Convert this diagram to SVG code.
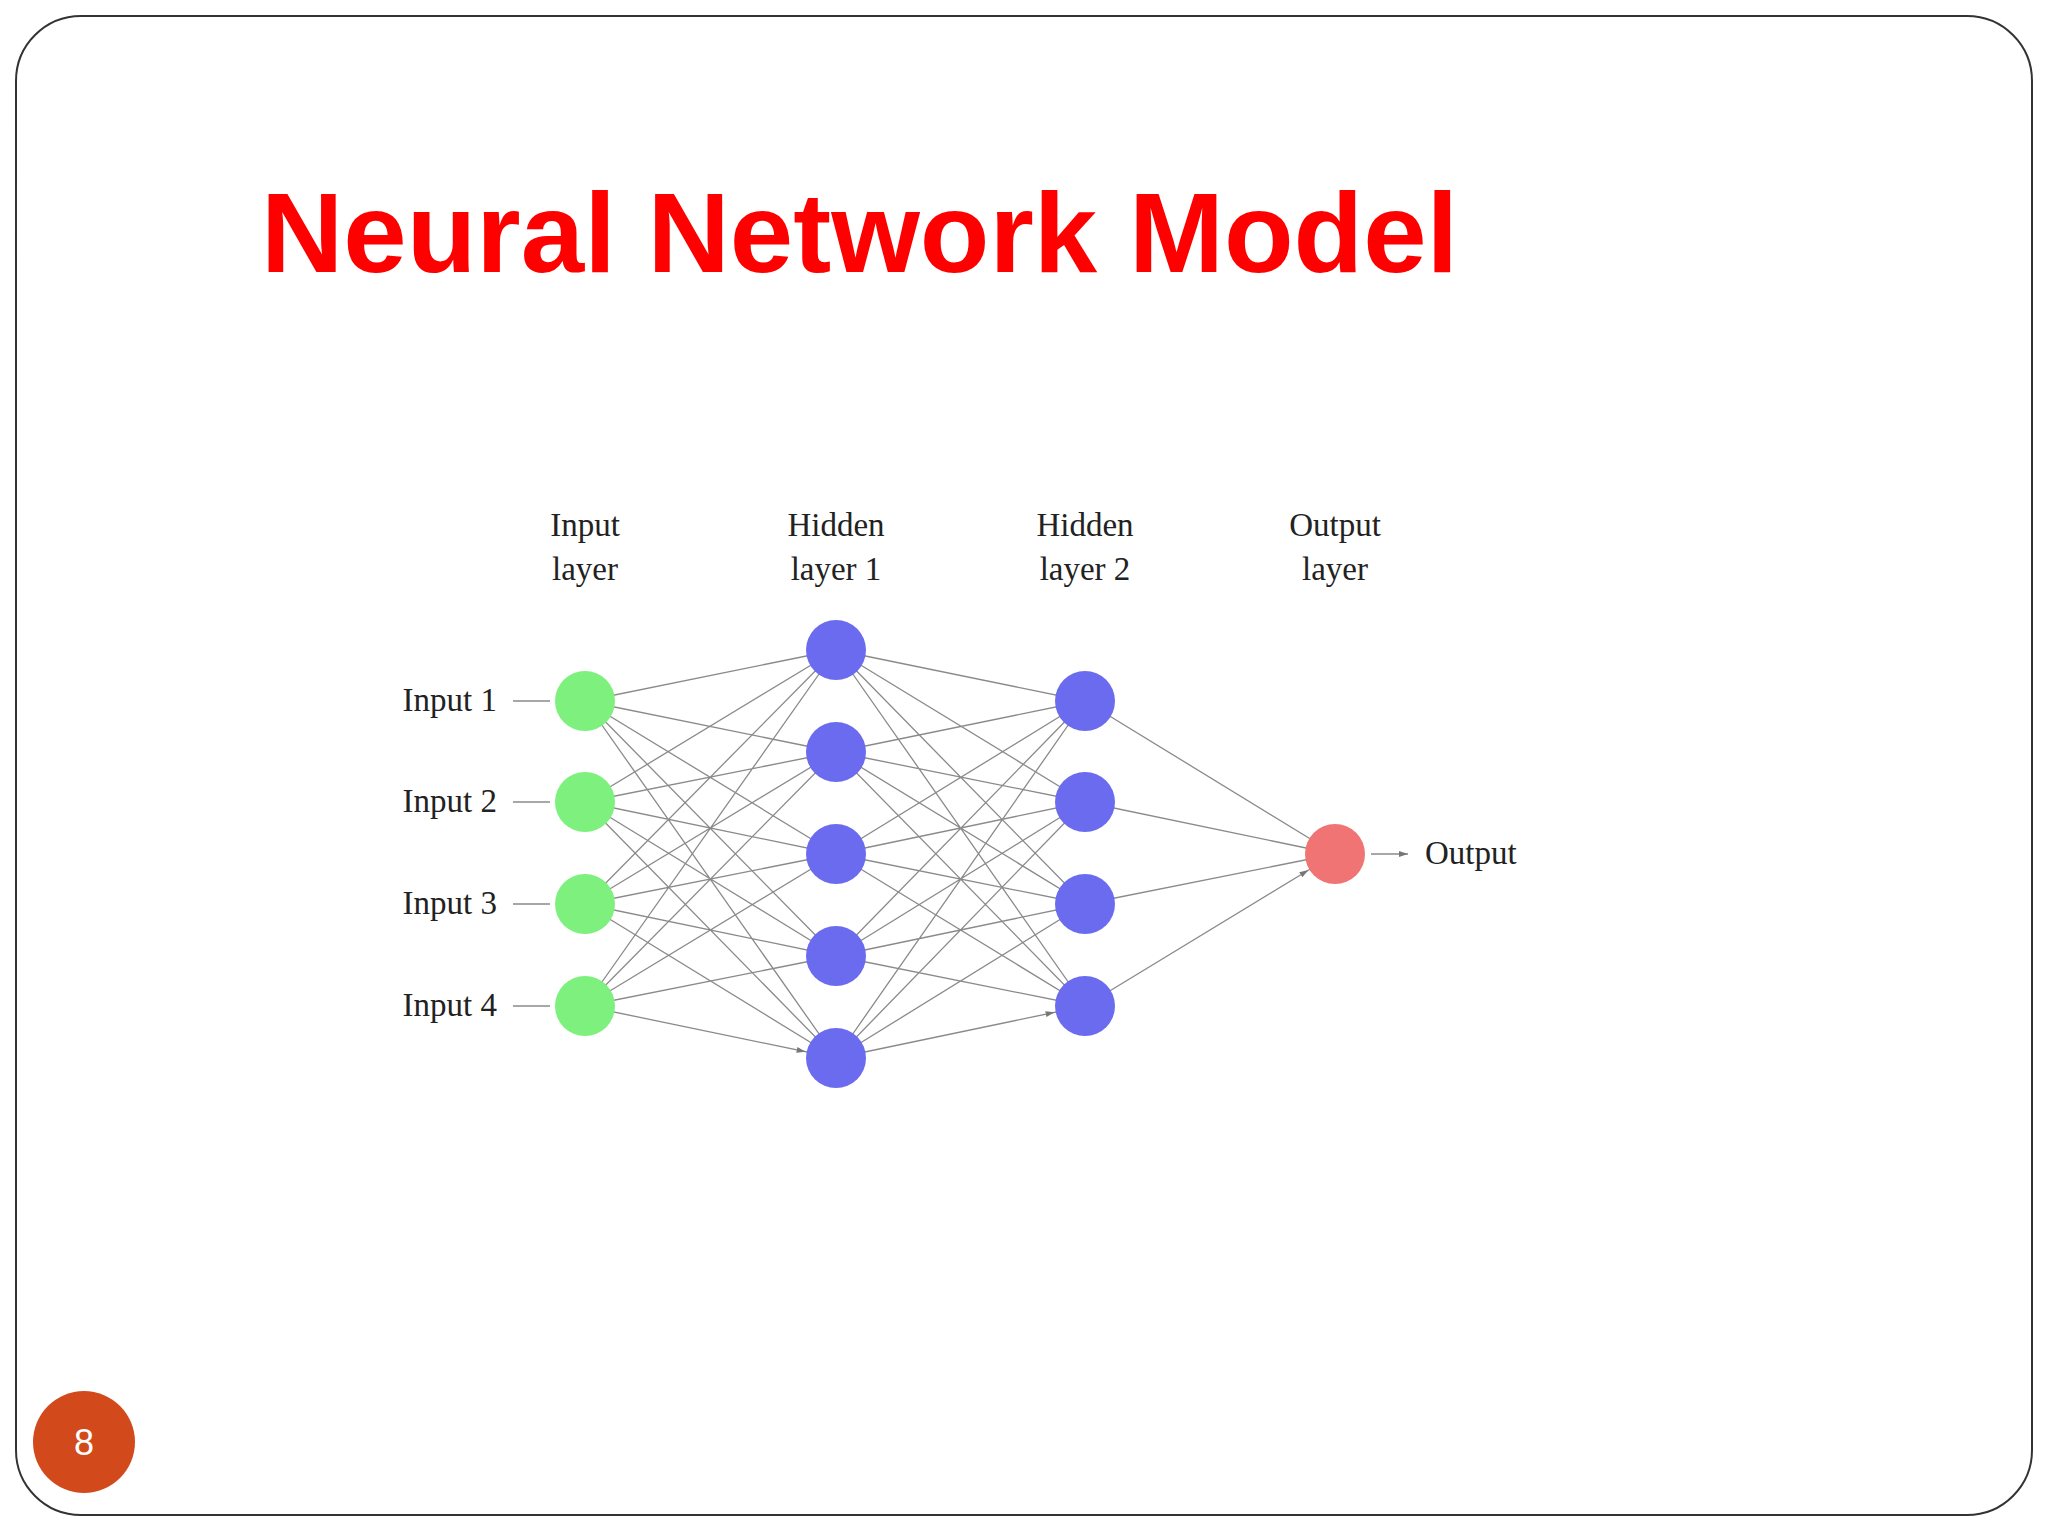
<svg xmlns="http://www.w3.org/2000/svg" width="2048" height="1536" viewBox="0 0 2048 1536">
<style>
.e{stroke:#8a8a8a;stroke-width:1.3;fill:none;marker-end:url(#a)}
.s{stroke:#8a8a8a;stroke-width:1.3;fill:none;marker-end:url(#b)}
.t{font-family:"Liberation Serif",serif;font-size:33px;fill:#222}
.g{fill:#7ef07e}.bl{fill:#6b6bef}.r{fill:#f07474}
</style>
<defs>
<marker id="a" markerUnits="userSpaceOnUse" markerWidth="50" markerHeight="12" viewBox="0 -6 50 12" refX="40" refY="0" orient="auto"><path d="M0,-3 L9,0 L0,3z" fill="#777"/></marker>
<marker id="b" markerUnits="userSpaceOnUse" markerWidth="10" markerHeight="10" viewBox="0 -5 10 10" refX="9" refY="0" orient="auto"><path d="M0,-3 L9,0 L0,3z" fill="#777"/></marker>
</defs>
<rect width="2048" height="1536" fill="#fff"/>
<rect x="16" y="16" width="2016" height="1499" rx="65" fill="none" stroke="#333" stroke-width="2"/>
<text x="261" y="272" font-family="Liberation Sans,Arial,sans-serif" font-weight="bold" font-size="114" fill="#f00">Neural Network Model</text>
<g id="pagenum"><circle cx="84" cy="1442" r="51" fill="#d24a1c"/><text x="84" y="1455" text-anchor="middle" font-family="Liberation Sans,sans-serif" font-size="36" fill="#fff">8</text></g>
<g id="headers" class="t" text-anchor="middle">
<text x="585" y="536">Input</text><text x="585" y="580">layer</text>
<text x="836" y="536">Hidden</text><text x="836" y="580">layer 1</text>
<text x="1085" y="536">Hidden</text><text x="1085" y="580">layer 2</text>
<text x="1335" y="536">Output</text><text x="1335" y="580">layer</text>
</g>
<g id="connectors">
<path class="e" d="M585,701L836,650M585,701L836,752M585,701L836,854M585,701L836,956M585,701L836,1058
M585,802L836,650M585,802L836,752M585,802L836,854M585,802L836,956M585,802L836,1058
M585,904L836,650M585,904L836,752M585,904L836,854M585,904L836,956M585,904L836,1058
M585,1006L836,650M585,1006L836,752M585,1006L836,854M585,1006L836,956M585,1006L836,1058"/>
<path class="e" d="M836,650L1085,701M836,650L1085,802M836,650L1085,904M836,650L1085,1006
M836,752L1085,701M836,752L1085,802M836,752L1085,904M836,752L1085,1006
M836,854L1085,701M836,854L1085,802M836,854L1085,904M836,854L1085,1006
M836,956L1085,701M836,956L1085,802M836,956L1085,904M836,956L1085,1006
M836,1058L1085,701M836,1058L1085,802M836,1058L1085,904M836,1058L1085,1006"/>
<path class="e" d="M1085,701L1335,854M1085,802L1335,854M1085,904L1335,854M1085,1006L1335,854"/>
<path class="s" d="M513,701H550M513,802H550M513,904H550M513,1006H550M1371,854H1408"/>
</g>
<g id="inputs" class="t" text-anchor="end">
<text x="497" y="711">Input 1</text><text x="497" y="812">Input 2</text><text x="497" y="914">Input 3</text><text x="497" y="1016">Input 4</text>
</g>
<text id="outlabel" class="t" x="1425" y="864">Output</text>
<g id="in1"><circle class="g" cx="585" cy="701" r="30"/></g>
<g id="in2"><circle class="g" cx="585" cy="802" r="30"/></g>
<g id="in3"><circle class="g" cx="585" cy="904" r="30"/></g>
<g id="in4"><circle class="g" cx="585" cy="1006" r="30"/></g>
<g id="h1a"><circle class="bl" cx="836" cy="650" r="30"/></g>
<g id="h1b"><circle class="bl" cx="836" cy="752" r="30"/></g>
<g id="h1c"><circle class="bl" cx="836" cy="854" r="30"/></g>
<g id="h1d"><circle class="bl" cx="836" cy="956" r="30"/></g>
<g id="h1e"><circle class="bl" cx="836" cy="1058" r="30"/></g>
<g id="h2a"><circle class="bl" cx="1085" cy="701" r="30"/></g>
<g id="h2b"><circle class="bl" cx="1085" cy="802" r="30"/></g>
<g id="h2c"><circle class="bl" cx="1085" cy="904" r="30"/></g>
<g id="h2d"><circle class="bl" cx="1085" cy="1006" r="30"/></g>
<g id="out"><circle class="r" cx="1335" cy="854" r="30"/></g>
</svg>
